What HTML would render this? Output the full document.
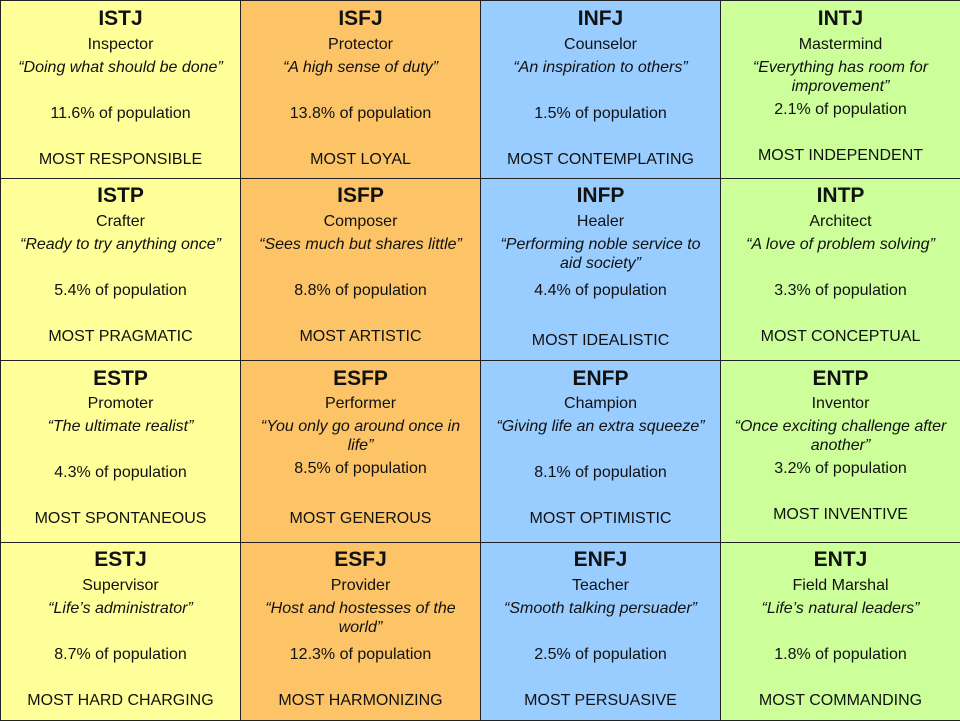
<!DOCTYPE html>
<html><head><meta charset="utf-8">
<style>
body{margin:0;width:960px;height:720px;overflow:hidden;background:#fff;font-family:"Liberation Sans",Arial,sans-serif;color:#111}
#grid{position:relative;width:960px;height:720px}
.cell{position:absolute;box-sizing:border-box;border:1px solid #222}
.t{position:absolute;left:0;width:100%;text-align:center;line-height:20px;transform:translateY(-10px);white-space:nowrap}
.title{font-weight:bold;font-size:21px}
.sub,.pop,.most{font-size:16px}
.q{font-size:16px;font-style:italic}
</style></head>
<body>
<div id="grid"></div>
<script>
const codes=["ISTJ","ISFJ","INFJ","INTJ","ISTP","ISFP","INFP","INTP","ESTP","ESFP","ENFP","ENTP","ESTJ","ESFJ","ENFJ","ENTJ"];
const roles=["Inspector","Protector","Counselor","Mastermind","Crafter","Composer","Healer","Architect","Promoter","Performer","Champion","Inventor","Supervisor","Provider","Teacher","Field Marshal"];
const quotes=[["“Doing what should be done”"],["“A high sense of duty”"],["“An inspiration to others”"],["“Everything has room for","improvement”"],
["“Ready to try anything once”"],["“Sees much but shares little”"],["“Performing noble service to","aid society”"],["“A love of problem solving”"],
["“The ultimate realist”"],["“You only go around once in","life”"],["“Giving life an extra squeeze”"],["“Once exciting challenge after","another”"],
["“Life’s administrator”"],["“Host and hostesses of the","world”"],["“Smooth talking persuader”"],["“Life’s natural leaders”"]];
const pops=[11.6,13.8,1.5,2.1,5.4,8.8,4.4,3.3,4.3,8.5,8.1,3.2,8.7,12.3,2.5,1.8];
const mosts=["MOST RESPONSIBLE","MOST LOYAL","MOST CONTEMPLATING","MOST INDEPENDENT","MOST PRAGMATIC","MOST ARTISTIC","MOST IDEALISTIC","MOST CONCEPTUAL","MOST SPONTANEOUS","MOST GENEROUS","MOST OPTIMISTIC","MOST INVENTIVE","MOST HARD CHARGING","MOST HARMONIZING","MOST PERSUASIVE","MOST COMMANDING"];
const popDy=[0,0,0,-4,0,0,0,0,0,-4,0,-4,0,0,0,0];
const mostDy=[0,0,0,-4,0,0,4,0,0,0,0,-4,0,0,0,0];
const colColors=["#ffff99","#fcc467","#99ccff","#ccff99"];
const rowTops=[0,178,360,542,720];
const colLefts=[0,240,480,720,960];
const rowOff=[[18,44,67,113,159],[17,43,66,112,158],[18,43,66,112,158],[17,43,66,112,158]];
const g=document.getElementById('grid');
function line(cell,cls,txt,y,name){
  const d=document.createElement('div');
  d.className='t '+cls;d.style.top=y+'px';d.textContent=txt;
  
  
  cell.appendChild(d);
}
codes.forEach((c,i)=>{
  const r=Math.floor(i/4),k=i%4,o=rowOff[r];
  const cell=document.createElement('div');
  cell.className='cell';
  cell.style.left=colLefts[k]+'px';cell.style.top=rowTops[r]+'px';
  cell.style.width=(colLefts[k+1]-colLefts[k]+1)+'px';cell.style.height=(rowTops[r+1]-rowTops[r]+1)+'px';
  cell.style.background=colColors[k];
  
  
  line(cell,'title',c,o[0],'type-code');
  line(cell,'sub',roles[i],o[1],'type-role');
  quotes[i].forEach((q,j)=>line(cell,'q',q,o[2]+j*19,'type-motto'));
  line(cell,'pop',pops[i].toFixed(1)+'% of population',o[3]+popDy[i],'population-share');
  line(cell,'most',mosts[i],o[4]+mostDy[i],'type-trait');
  g.appendChild(cell);
});
</script>
</body></html>
